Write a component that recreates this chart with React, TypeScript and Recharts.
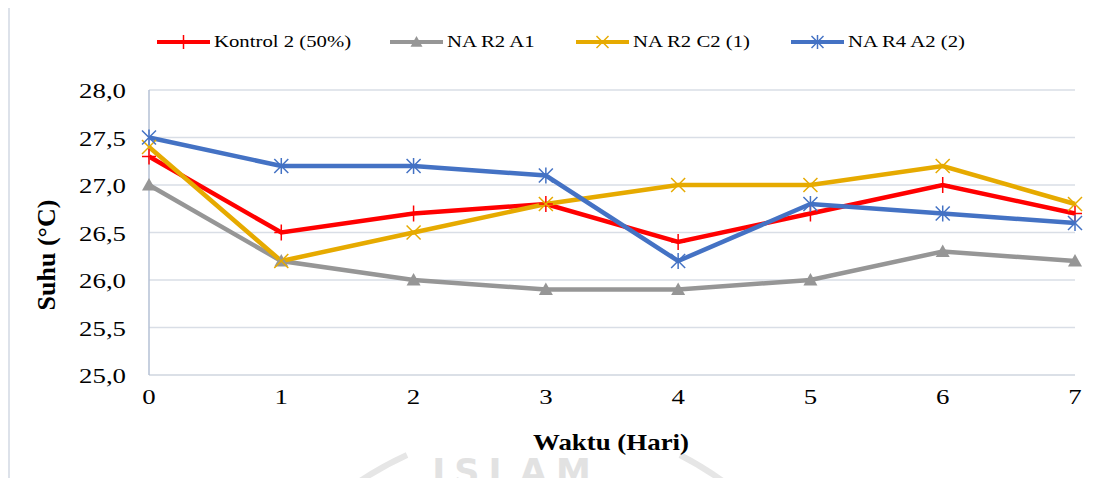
import { LineChart, Line, XAxis, YAxis, CartesianGrid } from 'recharts';

const days = [0, 1, 2, 3, 4, 5, 6, 7];
const kontrol2 = [27.3, 26.5, 26.7, 26.8, 26.4, 26.7, 27.0, 26.7];
const naR2A1 = [27.0, 26.2, 26.0, 25.9, 25.9, 26.0, 26.3, 26.2];
const naR2C2 = [27.4, 26.2, 26.5, 26.8, 27.0, 27.0, 27.2, 26.8];
const naR4A2 = [27.5, 27.2, 27.2, 27.1, 26.2, 26.8, 26.7, 26.6];
const yTicks = [25, 25.5, 26, 26.5, 27, 27.5, 28];

const SERIES = [
    { key: 'k2', name: 'Kontrol 2 (50%)', color: '#FF0000', marker: 'plus', left: 157 },
    { key: 'a1', name: 'NA R2 A1', color: '#969696', marker: 'triangle', left: 390 },
    { key: 'c2', name: 'NA R2 C2 (1)', color: '#E6AA00', marker: 'cross', left: 576 },
    { key: 'a2', name: 'NA R4 A2 (2)', color: '#4472C4', marker: 'star', left: 791 },
];

const data = days.map((d, i) => ({
    day: d,
    k2: kontrol2[i],
    a1: naR2A1[i],
    c2: naR2C2[i],
    a2: naR4A2[i],
}));

const FONT = '"Liberation Serif", "Times New Roman", serif';
// the source picture is stretched sideways, so text is widened a bit
const SX = 1.22;

const Marker = ({ cx, cy, type, color, s = 7 }: any) => {
    if (cx == null || cy == null) return null;
    if (type === 'triangle') {
        return <path d={`M${cx},${cy - s} L${cx + s},${cy + s * 0.8} L${cx - s},${cy + s * 0.8} Z`} fill={color} />;
    }
    if (type === 'plus') {
        return (
            <g stroke={color} strokeWidth={1.5}>
                <line x1={cx} y1={cy - s - 1} x2={cx} y2={cy + s + 1} />
                <line x1={cx - s} y1={cy} x2={cx + s} y2={cy} />
            </g>
        );
    }
    if (type === 'cross') {
        return (
            <g stroke={color} strokeWidth={1.5}>
                <line x1={cx - s} y1={cy - s} x2={cx + s} y2={cy + s} />
                <line x1={cx - s} y1={cy + s} x2={cx + s} y2={cy - s} />
            </g>
        );
    }
    return (
        <g stroke={color} strokeWidth={1.5}>
            <line x1={cx - s} y1={cy - s} x2={cx + s} y2={cy + s} />
            <line x1={cx - s} y1={cy + s} x2={cx + s} y2={cy - s} />
            <line x1={cx} y1={cy - s - 1} x2={cx} y2={cy + s + 1} />
        </g>
    );
};

const XTick = ({ x, y, payload }: any) => (
    <text transform={`translate(${x},${y + 21}) scale(${SX},1)`} textAnchor="middle" fontFamily={FONT} fontSize={22} fill="#000">
        {payload.value}
    </text>
);

const YTick = ({ x, y, payload }: any) => (
    <text transform={`translate(${x - 15},${y + 8}) scale(${SX},1)`} textAnchor="end" fontFamily={FONT} fontSize={22} fill="#000">
        {Number(payload.value).toFixed(1).replace('.', ',')}
    </text>
);

const LegendRow = () => (
    <div style={{ position: 'absolute', left: 0, top: 30, width: 1109, height: 24, fontFamily: FONT, fontSize: 17, color: '#000' }}>
        {SERIES.map((s) => (
            <div key={s.key} style={{ position: 'absolute', left: s.left, top: 0, display: 'flex', alignItems: 'center', height: 24 }}>
                <svg width={53} height={20}>
                    <line x1={0} y1={10} x2={53} y2={10} stroke={s.color} strokeWidth={4} />
                    <Marker cx={26.5} cy={10} type={s.marker} color={s.color} s={6} />
                </svg>
                <span style={{ marginLeft: 4, display: 'inline-block', whiteSpace: 'nowrap', transform: `scale(${SX},1)`, transformOrigin: 'left center' }}>{s.name}</span>
            </div>
        ))}
    </div>
);

export default function App() {
    return (
        <div style={{ position: 'relative', width: 1109, height: 486, margin: -8, overflow: 'hidden', background: '#fff' }}>
            <div style={{ position: 'absolute', left: 8, top: 5, right: -10, bottom: -10, borderLeft: '2px solid #DDE2EA', borderTop: '2px solid #DDE2EA' }} />
            <LineChart
                width={1109}
                height={486}
                data={data}
                margin={{ top: 90, right: 34, bottom: 81, left: 0 }}
                style={{ position: 'absolute', left: 0, top: 0 }}
            >
                {/* faint page watermark behind the axis title */}
                <g fill="none" stroke="#E6E6E6" strokeWidth={6}>
                    <path d="M350,488 A336,336 0 0,1 407,455" />
                    <path d="M680,455 A336,336 0 0,1 732,488" />
                </g>
                <text transform="translate(516,484)" textAnchor="middle" fontFamily="DejaVu Sans" fontWeight="bold" fontSize={35} letterSpacing={9} fill="#E2E2E2">
                    ISLAM
                </text>
                <CartesianGrid horizontal vertical={false} stroke="#D9DEE6" strokeWidth={1.5} />
                <XAxis
                    dataKey="day"
                    height={30}
                    axisLine={{ stroke: '#D9DEE6', strokeWidth: 1.5 }}
                    tickLine={false}
                    tick={<XTick />}
                />
                <YAxis
                    width={149}
                    domain={[25, 28]}
                    ticks={yTicks}
                    interval={0}
                    axisLine={{ stroke: '#B4C0D4', strokeWidth: 1.5 }}
                    tickLine={false}
                    tick={<YTick />}
                />
                {SERIES.map((s) => (
                    <Line
                        key={s.key}
                        dataKey={s.key}
                        name={s.name}
                        stroke={s.color}
                        strokeWidth={4.5}
                        isAnimationActive={false}
                        dot={(p: any) => <Marker key={`${s.key}-${p.index}`} cx={p.cx} cy={p.cy} type={s.marker} color={s.color} />}
                        activeDot={false}
                    />
                ))}
                <text transform={`translate(611,450) scale(1.12,1)`} textAnchor="middle" fontFamily={FONT} fontSize={24} fontWeight="bold" fill="#000">
                    Waktu (Hari)
                </text>
                <text x={55} y={255} textAnchor="middle" transform="rotate(-90 55 255)" fontFamily={FONT} fontSize={26} fontWeight="bold" fill="#000">
                    Suhu (°C)
                </text>
            </LineChart>
            <LegendRow />
        </div>
    );
}
